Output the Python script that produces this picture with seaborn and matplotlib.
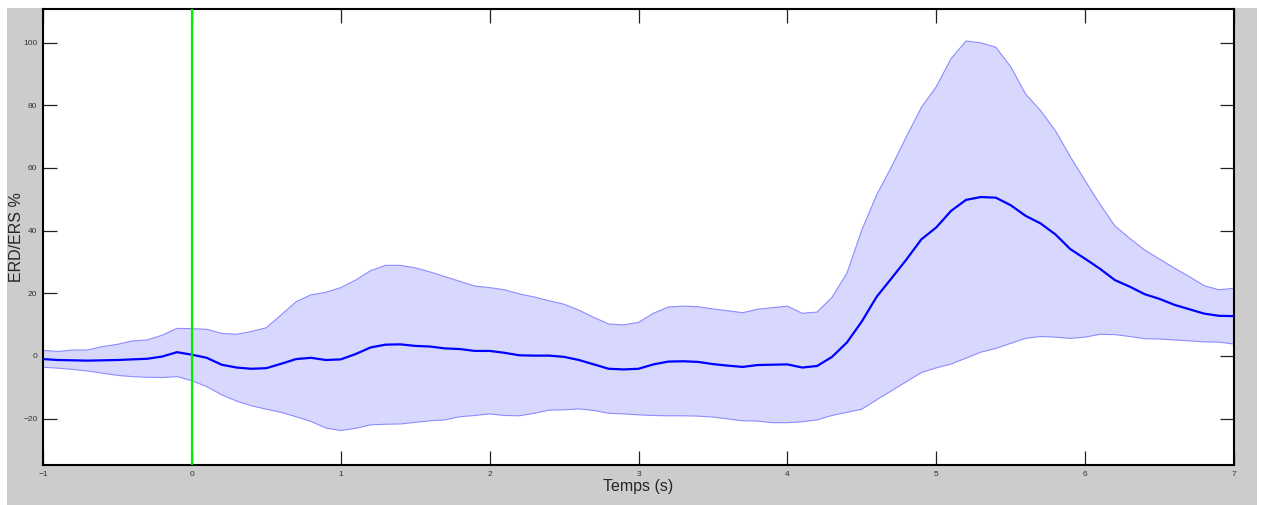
import matplotlib
matplotlib.use("Agg")
import matplotlib.pyplot as plt
import numpy as np
import pandas as pd
import seaborn as sns
from matplotlib.patches import Rectangle

# time axis (s), one sample every 0.1 s
time = np.round(np.arange(-1.0, 7.01, 0.1), 1)

# mean ERD/ERS (%)
mean_erd = [
    -1.0, -1.3, -1.4, -1.5, -1.4, -1.3, -1.1, -0.9, -0.2, 1.2,
    0.4, -0.6, -2.8, -3.7, -4.1, -3.9, -2.5, -1.0, -0.6, -1.3,
    -1.1, 0.6, 2.7, 3.6, 3.7, 3.2, 3.0, 2.4, 2.2, 1.6,
    1.6, 1.0, 0.2, 0.1, 0.1, -0.3, -1.3, -2.7, -4.1, -4.3,
    -4.1, -2.7, -1.8, -1.7, -1.9, -2.6, -3.1, -3.5, -2.9, -2.8,
    -2.7, -3.7, -3.2, -0.3, 4.3, 11.0, 18.9, 24.8, 30.8, 37.2,
    41.0, 46.3, 49.8, 50.7, 50.5, 48.1, 44.7, 42.3, 38.8, 34.1,
    31.0, 27.8, 24.2, 22.1, 19.7, 18.2, 16.3, 14.9, 13.5, 12.8,
    12.7,
]

# upper bound of the shaded band
upper_erd = [
    1.8, 1.4, 1.9, 1.9, 3.0, 3.7, 4.8, 5.1, 6.6, 8.8,
    8.7, 8.5, 7.2, 6.9, 7.8, 9.0, 13.1, 17.3, 19.5, 20.3,
    21.8, 24.2, 27.2, 28.9, 28.9, 28.1, 26.8, 25.3, 23.8, 22.3,
    21.8, 21.1, 19.8, 18.8, 17.6, 16.5, 14.6, 12.3, 10.2, 9.9,
    10.7, 13.6, 15.6, 15.9, 15.7, 15.0, 14.4, 13.8, 14.9, 15.4,
    15.9, 13.6, 14.0, 18.7, 26.4, 40.2, 51.4, 60.4, 70.0, 79.3,
    85.9, 94.9, 100.5, 99.9, 98.5, 92.3, 83.6, 78.3, 71.9, 63.6,
    55.9, 48.4, 41.5, 37.5, 33.8, 30.9, 28.0, 25.3, 22.4, 21.1,
    21.6,
]

# lower bound of the shaded band
lower_erd = [
    -3.6, -3.9, -4.3, -4.8, -5.5, -6.2, -6.6, -6.8, -6.9, -6.6,
    -7.9, -9.8, -12.4, -14.4, -15.9, -17.0, -18.0, -19.4, -20.9, -23.0,
    -23.8, -23.1, -22.0, -21.8, -21.7, -21.2, -20.7, -20.4, -19.4, -19.0,
    -18.5, -19.0, -19.1, -18.3, -17.3, -17.2, -16.9, -17.4, -18.3, -18.5,
    -18.8, -19.0, -19.1, -19.1, -19.2, -19.5, -20.1, -20.7, -20.8, -21.3,
    -21.3, -21.0, -20.4, -19.0, -18.0, -17.0, -14.0, -11.1, -8.2, -5.3,
    -3.8, -2.6, -0.7, 1.2, 2.4, 4.0, 5.6, 6.2, 6.0, 5.6,
    6.0, 6.9, 6.8, 6.2, 5.5, 5.4, 5.1, 4.8, 4.5, 4.4,
    3.8,
]

x_ticks = [-1, 0, 1, 2, 3, 4, 5, 6, 7]
y_ticks = [-20, 0, 20, 40, 60, 80, 100]
onset = 0.0

df = pd.DataFrame({"Temps": time, "Mean": mean_erd,
                   "Upper": upper_erd, "Lower": lower_erd})

sns.set_style("white")
plt.rcParams["font.family"] = ["Liberation Sans", "DejaVu Sans"]

W, H = 1261, 505
fig = plt.figure(figsize=(W / 100, H / 100), dpi=100, facecolor="white")
# gray matlab-like window background
fig.patches.append(Rectangle((7 / W, 0), 1250 / W, 497 / H,
                             transform=fig.transFigure, facecolor="#cccccc",
                             edgecolor="none", zorder=-10))
ax = fig.add_axes([43 / W, 40 / H, 1191 / W, 456 / H])
ax.set_facecolor("white")

ax.fill_between(df["Temps"], df["Lower"], df["Upper"],
                facecolor="#d8d8ff", edgecolor="none", zorder=1)
sns.lineplot(data=df, x="Temps", y="Upper", ax=ax, color="#8c8cff",
             linewidth=0.8, zorder=2)
sns.lineplot(data=df, x="Temps", y="Lower", ax=ax, color="#8c8cff",
             linewidth=0.8, zorder=2)
sns.lineplot(data=df, x="Temps", y="Mean", ax=ax, color="#0000ff",
             linewidth=1.6, zorder=3)
ax.axvline(onset, color="#00ee00", linewidth=1.6, zorder=4)

ax.set_xlim(-1, 7)
ax.set_ylim(-34.8, 110.7)
ax.set_xticks(x_ticks)
ax.set_yticks(y_ticks)
ax.tick_params(direction="in", length=10, width=0.9,
               top=True, right=True, bottom=True, left=True,
               labelsize=6, labelcolor="#333333", color="#222222", pad=4)
for s in ax.spines.values():
    s.set_visible(True)
    s.set_color("black")
    s.set_linewidth(1.5)

ax.set_xlabel("Temps (s)", fontsize=11.5, labelpad=1)
ax.set_ylabel("ERD/ERS %", fontsize=11.5)
ax.yaxis.set_label_coords(-19 / 1191, 0.5)

fig.savefig("out.png", dpi=100, facecolor=fig.get_facecolor())
